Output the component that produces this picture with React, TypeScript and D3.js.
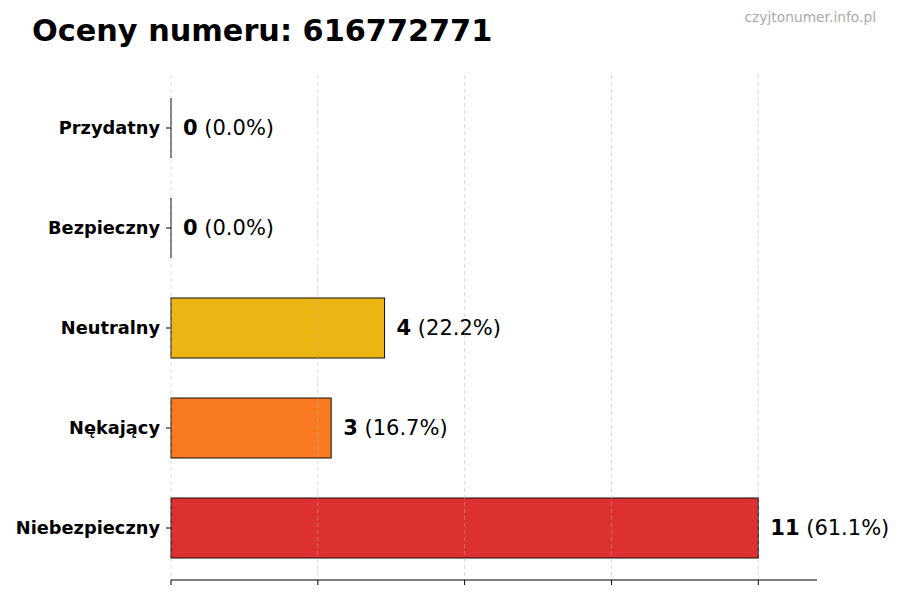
import * as d3 from "d3";

const categories = ["Przydatny", "Bezpieczny", "Neutralny", "Nękający", "Niebezpieczny"];
const counts = [0, 0, 4, 3, 11];
const percents = ["0.0%", "0.0%", "22.2%", "16.7%", "61.1%"];
const colors = ["#16a34a", "#22c55e", "#eab308", "#f97316", "#dc2626"];
const gridTicks = [0, 2.75, 5.5, 8.25, 11];

export default function App() {
  const width = 900;
  const height = 600;
  const margin = { top: 78, right: 83, bottom: 22, left: 171 };
  const axisY = 580;

  const xScale = d3
    .scaleLinear()
    .domain([0, d3.max(counts)! * 1.1])
    .range([margin.left, width - margin.right]);

  const yScale = d3
    .scaleBand()
    .domain(categories)
    .range([margin.top, height - margin.bottom])
    .paddingInner(0.4)
    .paddingOuter(0.2);

  const font = "DejaVu Sans, sans-serif";

  return (
    <svg
      width={width}
      height={height}
      style={{ position: "absolute", left: 0, top: 0, background: "white" }}
      fontFamily={font}
    >
      <text x={32} y={41} fontSize={30.3} fontWeight="bold" fill="#000">
        Oceny numeru: 616772771
      </text>
      <text x={876} y={22} fontSize={13.8} fill="#aaaaaa" textAnchor="end">
        czyjtonumer.info.pl
      </text>

      {categories.map((c, i) => {
        const y = yScale(c)!;
        const bw = yScale.bandwidth();
        const x0 = xScale(0);
        const x1 = xScale(counts[i]);
        return (
          <g key={c}>
            {counts[i] > 0 ? (
              <rect
                x={x0}
                y={y}
                width={x1 - x0}
                height={bw}
                fill={colors[i]}
                stroke="#000"
                strokeWidth={1}
                opacity={0.95}
              />
            ) : (
              <line x1={x0} x2={x0} y1={y} y2={y + bw} stroke="#000" strokeWidth={1} />
            )}
            <line x1={x0 - 5} x2={x0} y1={y + bw / 2} y2={y + bw / 2} stroke="#000" />
            <text
              x={x0 - 11}
              y={y + bw / 2}
              dy="0.35em"
              textAnchor="end"
              fontSize={17.8}
              fontWeight="bold"
            >
              {c}
            </text>
            <text x={x1 + 12} y={y + bw / 2} dy="0.35em" fontSize={21}>
              <tspan fontWeight="bold">{counts[i]}</tspan>
              <tspan> ({percents[i]})</tspan>
            </text>
          </g>
        );
      })}

      {gridTicks.map((t) => (
        <line
          key={t}
          x1={xScale(t)}
          x2={xScale(t)}
          y1={75}
          y2={axisY}
          stroke="#b0b0b0"
          strokeOpacity={0.6}
          strokeDasharray="4,3"
          strokeWidth={0.8}
        />
      ))}

      <line x1={xScale.range()[0]} x2={xScale.range()[1]} y1={axisY} y2={axisY} stroke="#000" strokeWidth={1} />
      {gridTicks.map((t) => (
        <line key={`t${t}`} x1={xScale(t)} x2={xScale(t)} y1={axisY} y2={axisY + 5} stroke="#000" />
      ))}
    </svg>
  );
}
